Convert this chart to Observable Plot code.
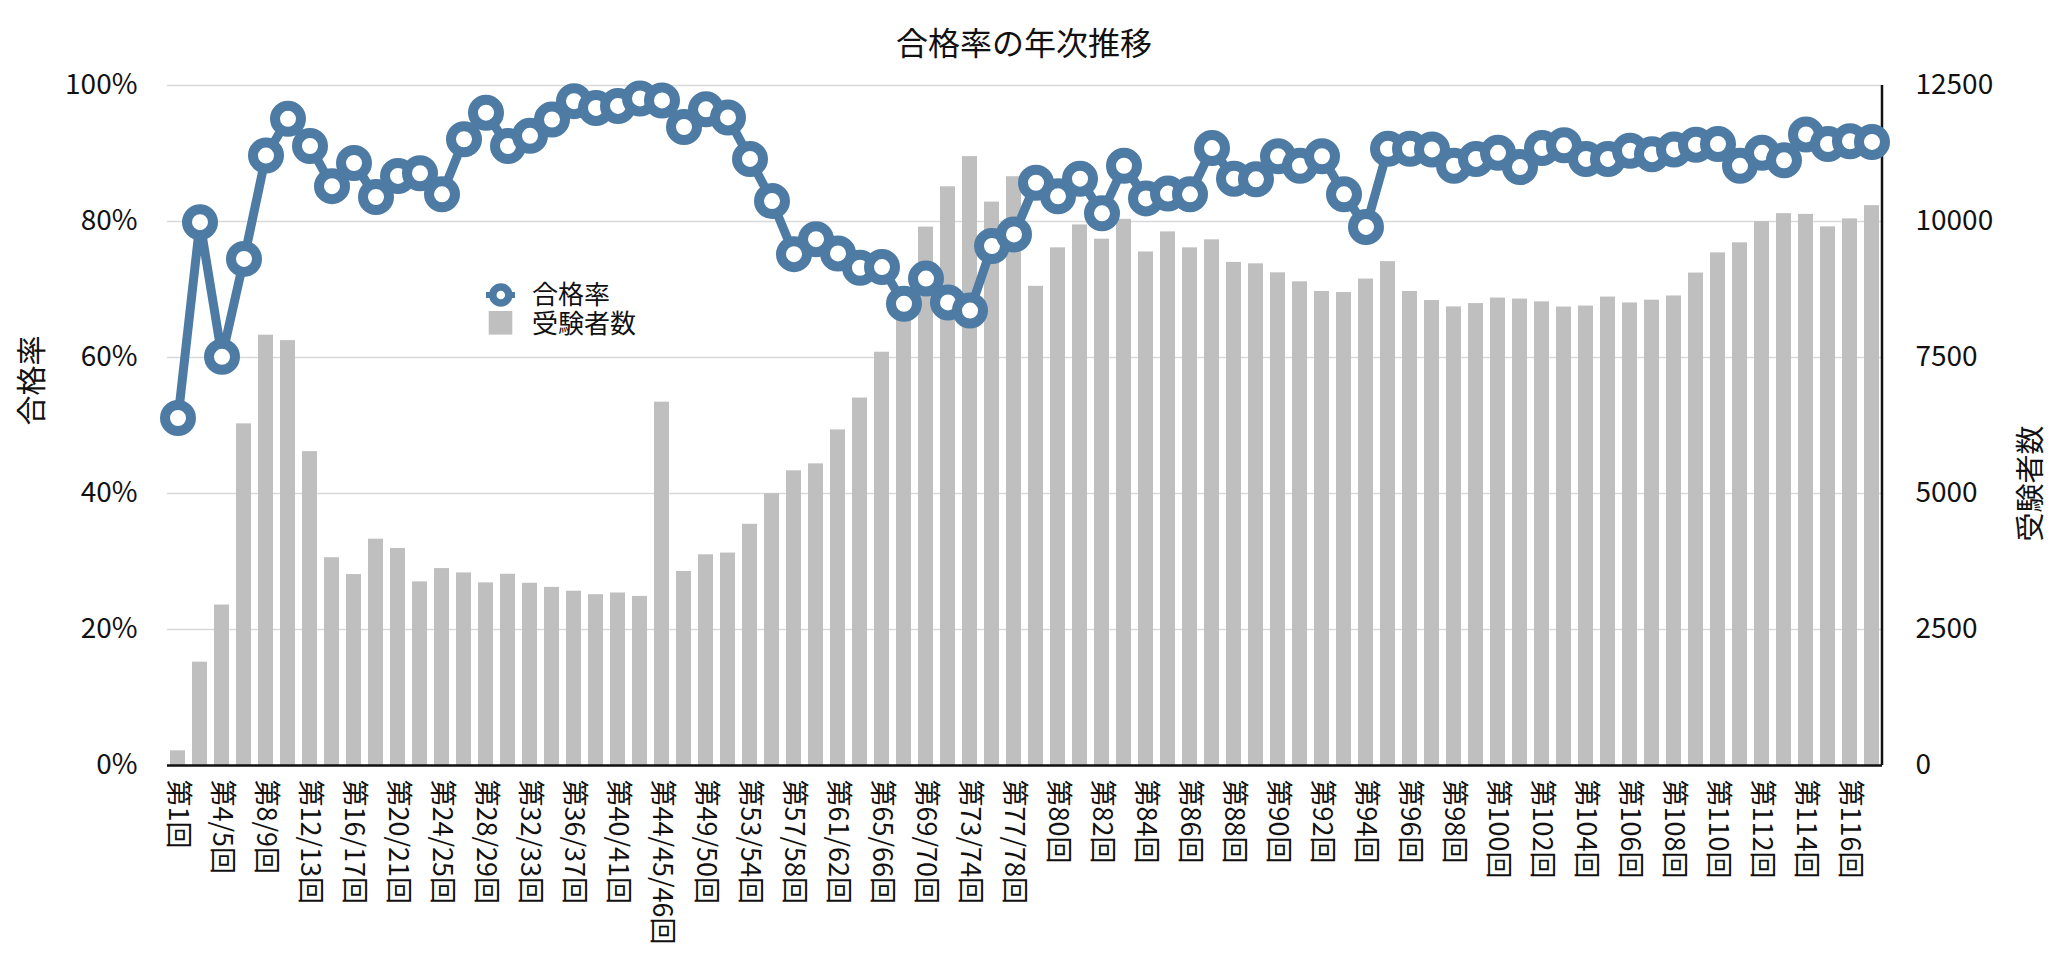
<!DOCTYPE html>
<html>
<head>
<meta charset="utf-8">
<script src="https://cdn.jsdelivr.net/npm/d3@7"></script>
<script src="https://cdn.jsdelivr.net/npm/@observablehq/plot@0.6"></script>
<style>
  body { margin: 0; background: #fff; font-family: "Noto Sans CJK JP", "Noto Sans", sans-serif; }
  #wrap { position: relative; width: 2048px; height: 978px; overflow: hidden; }
  #title { height: 56px; box-sizing: border-box; padding-top: 27px; line-height: 29px; font-size: 32px; text-align: center; color: #111; }
  #legend { position: absolute; left: 480px; top: 275px; }
</style>
</head>
<body>
<div id="wrap">
  <div id="title">合格率の年次推移</div>
  <div id="chart"></div>
  <svg id="legend" width="200" height="72" font-family="'Noto Sans CJK JP', sans-serif" font-size="26">
    <line x1="6" x2="35" y1="20" y2="20" stroke="#4e7ba3" stroke-width="6"></line>
    <circle cx="20.8" cy="20" r="8" fill="white" stroke="#4e7ba3" stroke-width="7.5"></circle>
    <rect x="8.7" y="36" width="23.6" height="23.6" fill="#bfbfbf"></rect>
    <text fill="#111"><tspan x="52" y="29">合格率</tspan><tspan x="52" y="58">受験者数</tspan></text>
  </svg>
</div>
<script>
const categories = [
  "第1回","第2/3回","第4/5回","第6/7回","第8/9回","第10/11回","第12/13回","第14/15回",
  "第16/17回","第18/19回","第20/21回","第22/23回","第24/25回","第26/27回","第28/29回","第30/31回",
  "第32/33回","第34/35回","第36/37回","第38/39回","第40/41回","第42/43回","第44/45/46回","第47/48回",
  "第49/50回","第51/52回","第53/54回","第55/56回","第57/58回","第59/60回","第61/62回","第63/64回",
  "第65/66回","第67/68回","第69/70回","第71/72回","第73/74回","第75/76回","第77/78回","第79回",
  "第80回","第81回","第82回","第83回","第84回","第85回","第86回","第87回","第88回","第89回",
  "第90回","第91回","第92回","第93回","第94回","第95回","第96回","第97回","第98回","第99回",
  "第100回","第101回","第102回","第103回","第104回","第105回","第106回","第107回","第108回","第109回",
  "第110回","第111回","第112回","第113回","第114回","第115回","第116回","第117回"
];

// 合格率 (%)
const passRate = [
  51.1, 79.9, 60.1, 74.5, 89.7, 95.1, 91.1, 85.2, 88.6, 83.6,
  86.7, 87.1, 84.0, 92.1, 96.0, 91.1, 92.6, 95.0, 97.7, 96.7,
  97.0, 98.1, 97.8, 93.9, 96.5, 95.3, 89.2, 83.0, 75.2, 77.4,
  75.3, 73.2, 73.3, 67.9, 71.6, 68.1, 66.9, 76.4, 78.1, 85.7,
  83.7, 86.3, 81.2, 88.2, 83.4, 84.1, 84.0, 90.8, 86.3, 86.2,
  89.6, 88.2, 89.6, 84.0, 79.2, 90.7, 90.7, 90.6, 88.2, 89.2,
  90.1, 88.0, 90.8, 91.2, 89.2, 89.2, 90.4, 89.9, 90.6, 91.3,
  91.4, 88.2, 90.1, 89.0, 92.8, 91.4, 91.8, 91.7
];

// 受験者数
const examinees = [
  270, 1900, 2950, 6280, 7910, 7810, 5770, 3820, 3510, 4160,
  3990, 3375, 3620, 3540, 3357, 3516, 3350, 3274, 3204, 3140,
  3171, 3108, 6679, 3567, 3873, 3905, 4434, 4996, 5417, 5545,
  6169, 6755, 7597, 8500, 9897, 10638, 11193, 10357, 10823, 8808,
  9516, 9937, 9675, 10040, 9440, 9809, 9516, 9663, 9248, 9222,
  9057, 8891, 8713, 8694, 8942, 9262, 8713, 8547, 8430, 8491,
  8593, 8574, 8523, 8427, 8446, 8611, 8503, 8554, 8631, 9052,
  9423, 9608, 9997, 10144, 10131, 9901, 10048, 10291
];

const rateTicks = [0, 20, 40, 60, 80, 100];
const countTicks = [0, 2500, 5000, 7500, 10000, 12500];
const xTickLabels = categories.filter((d, i) => i % 2 === 0);

const COUNT_MAX = 12500;
const data = categories.map((c, i) => ({cat: c, rate: passRate[i], count: examinees[i]}));

const BLUE = "#4e7ba3";
const BAR = "#bfbfbf";

const rightAxisLine = (index, scales, values, dims) => {
  const x = dims.width - dims.marginRight;
  return d3.create("svg:line")
    .attr("x1", x).attr("x2", x)
    .attr("y1", dims.marginTop).attr("y2", dims.height - dims.marginBottom)
    .attr("stroke", "#111").attr("stroke-width", 2.5)
    .node();
};

const chart = Plot.plot({
  width: 2048,
  height: 922,
  marginTop: 29,
  marginBottom: 213,
  marginLeft: 167,
  marginRight: 166,
  style: {fontFamily: "'Noto Sans CJK JP', sans-serif", fontSize: "28px", color: "#111", background: "white"},
  x: {domain: categories, paddingInner: 0.33, paddingOuter: 0.1, label: null},
  y: {domain: [0, 100], label: null},
  marks: [
    Plot.gridY(rateTicks, {stroke: "#d9d9d9", strokeOpacity: 1, strokeWidth: 1.5}),
    Plot.barY(data, {x: "cat", y: d => d.count / COUNT_MAX * 100, fill: BAR}),
    Plot.ruleY([0], {stroke: "#111", strokeWidth: 2.5}),
    rightAxisLine,
    Plot.line(data, {x: "cat", y: "rate", stroke: BLUE, strokeWidth: 9}),
    Plot.dot(data, {x: "cat", y: "rate", r: 13, stroke: BLUE, strokeWidth: 10, fill: "white"}),
    Plot.axisY(rateTicks, {anchor: "left", tickSize: 0, tickPadding: 30, tickFormat: d => d + "%", label: null, fontSize: 28}),
    Plot.axisY(countTicks.map(c => c / COUNT_MAX * 100), {
      anchor: "right", tickSize: 0, tickPadding: 33, label: null, fontSize: 28,
      tickFormat: d => String(Math.round(d / 100 * COUNT_MAX))
    }),
    Plot.axisX(xTickLabels, {anchor: "bottom", tickSize: 0, tickPadding: 14, tickRotate: 90, fontSize: 27, label: null}),
    Plot.text(["合格率"], {text: d => d, frameAnchor: "left", dx: -135, rotate: -90, fontSize: 30, fill: "#111"}),
    Plot.text(["受験者数"], {text: d => d, frameAnchor: "right", dx: 149, rotate: -90, fontSize: 29, fill: "#111"})
  ]
});

document.getElementById("chart").appendChild(chart);
</script>
</body>
</html>
